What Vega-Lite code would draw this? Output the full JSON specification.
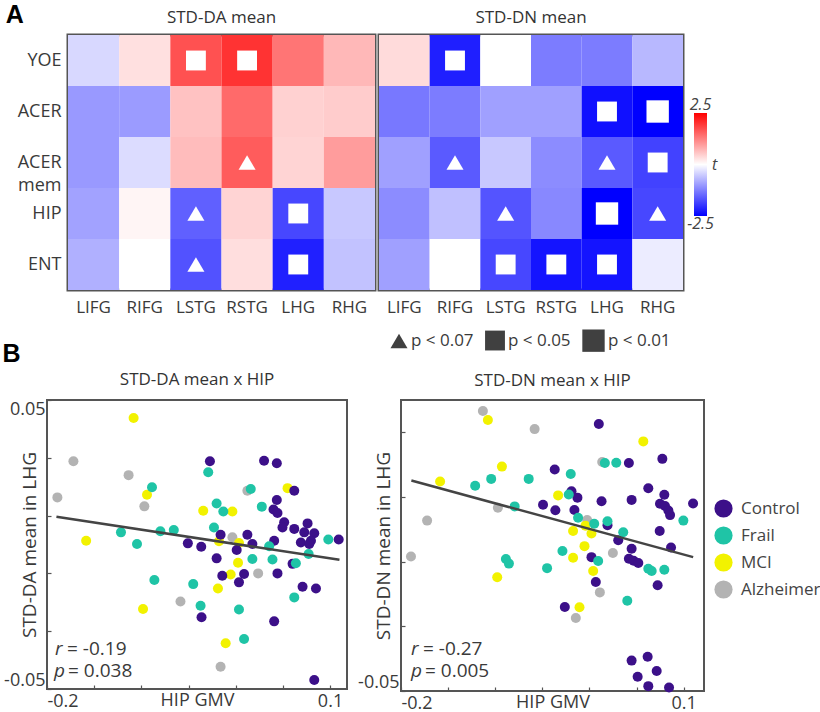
{
  "$schema": "https://vega.github.io/schema/vega-lite/v6.json",
  "padding": {"left": 2, "top": 2, "right": 0, "bottom": 0},
  "background": "white",
  "config": {
    "font": "Open Sans",
    "view": {"stroke": null},
    "axis": {"labelFont": "Open Sans", "labelColor": "#3a3a3a", "titleFont": "Open Sans", "titleColor": "#3a3a3a", "titleFontWeight": "normal", "tickColor": "#555", "tickWidth": 1.2, "domain": false, "grid": false, "zindex": 1, "labelOverlap": false, "minExtent": 0},
    "title": {"font": "Open Sans", "fontSize": 17, "fontWeight": "normal", "color": "#333"},
    "legend": {"labelFont": "Open Sans", "labelColor": "#3a3a3a"}
  },
  "datasets": {
    "heat": [
      {"panel":"DA","measure":"YOE","region":"LIFG","t":-0.38,"sig":"none"},
      {"panel":"DA","measure":"YOE","region":"RIFG","t":0.3,"sig":"none"},
      {"panel":"DA","measure":"YOE","region":"LSTG","t":1.71,"sig":"p < 0.05"},
      {"panel":"DA","measure":"YOE","region":"RSTG","t":2.0,"sig":"p < 0.05"},
      {"panel":"DA","measure":"YOE","region":"LHG","t":1.35,"sig":"none"},
      {"panel":"DA","measure":"YOE","region":"RHG","t":0.7,"sig":"none"},
      {"panel":"DA","measure":"ACER","region":"LIFG","t":-1.0,"sig":"none"},
      {"panel":"DA","measure":"ACER","region":"RIFG","t":-0.98,"sig":"none"},
      {"panel":"DA","measure":"ACER","region":"LSTG","t":0.6,"sig":"none"},
      {"panel":"DA","measure":"ACER","region":"RSTG","t":1.46,"sig":"none"},
      {"panel":"DA","measure":"ACER","region":"LHG","t":0.45,"sig":"none"},
      {"panel":"DA","measure":"ACER","region":"RHG","t":0.5,"sig":"none"},
      {"panel":"DA","measure":"ACERmem","region":"LIFG","t":-1.0,"sig":"none"},
      {"panel":"DA","measure":"ACERmem","region":"RIFG","t":-0.34,"sig":"none"},
      {"panel":"DA","measure":"ACERmem","region":"LSTG","t":0.66,"sig":"none"},
      {"panel":"DA","measure":"ACERmem","region":"RSTG","t":1.6,"sig":"p < 0.07"},
      {"panel":"DA","measure":"ACERmem","region":"LHG","t":0.42,"sig":"none"},
      {"panel":"DA","measure":"ACERmem","region":"RHG","t":0.97,"sig":"none"},
      {"panel":"DA","measure":"HIP","region":"LIFG","t":-0.91,"sig":"none"},
      {"panel":"DA","measure":"HIP","region":"RIFG","t":0.1,"sig":"none"},
      {"panel":"DA","measure":"HIP","region":"LSTG","t":-1.56,"sig":"p < 0.07"},
      {"panel":"DA","measure":"HIP","region":"RSTG","t":0.42,"sig":"none"},
      {"panel":"DA","measure":"HIP","region":"LHG","t":-1.8,"sig":"p < 0.05"},
      {"panel":"DA","measure":"HIP","region":"RHG","t":-0.54,"sig":"none"},
      {"panel":"DA","measure":"ENT","region":"LIFG","t":-0.77,"sig":"none"},
      {"panel":"DA","measure":"ENT","region":"RIFG","t":0.0,"sig":"none"},
      {"panel":"DA","measure":"ENT","region":"LSTG","t":-1.7,"sig":"p < 0.07"},
      {"panel":"DA","measure":"ENT","region":"RSTG","t":0.32,"sig":"none"},
      {"panel":"DA","measure":"ENT","region":"LHG","t":-2.19,"sig":"p < 0.05"},
      {"panel":"DA","measure":"ENT","region":"RHG","t":-0.6,"sig":"none"},
      {"panel":"DN","measure":"YOE","region":"LIFG","t":0.35,"sig":"none"},
      {"panel":"DN","measure":"YOE","region":"RIFG","t":-2.2,"sig":"p < 0.05"},
      {"panel":"DN","measure":"YOE","region":"LSTG","t":0.0,"sig":"none"},
      {"panel":"DN","measure":"YOE","region":"RSTG","t":-1.28,"sig":"none"},
      {"panel":"DN","measure":"YOE","region":"LHG","t":-1.28,"sig":"none"},
      {"panel":"DN","measure":"YOE","region":"RHG","t":-0.7,"sig":"none"},
      {"panel":"DN","measure":"ACER","region":"LIFG","t":-1.32,"sig":"none"},
      {"panel":"DN","measure":"ACER","region":"RIFG","t":-1.28,"sig":"none"},
      {"panel":"DN","measure":"ACER","region":"LSTG","t":-0.93,"sig":"none"},
      {"panel":"DN","measure":"ACER","region":"RSTG","t":-0.93,"sig":"none"},
      {"panel":"DN","measure":"ACER","region":"LHG","t":-2.34,"sig":"p < 0.05"},
      {"panel":"DN","measure":"ACER","region":"RHG","t":-2.5,"sig":"p < 0.01"},
      {"panel":"DN","measure":"ACERmem","region":"LIFG","t":-0.93,"sig":"none"},
      {"panel":"DN","measure":"ACERmem","region":"RIFG","t":-1.62,"sig":"p < 0.07"},
      {"panel":"DN","measure":"ACERmem","region":"LSTG","t":-0.54,"sig":"none"},
      {"panel":"DN","measure":"ACERmem","region":"RSTG","t":-1.13,"sig":"none"},
      {"panel":"DN","measure":"ACERmem","region":"LHG","t":-1.62,"sig":"p < 0.07"},
      {"panel":"DN","measure":"ACERmem","region":"RHG","t":-1.85,"sig":"p < 0.05"},
      {"panel":"DN","measure":"HIP","region":"LIFG","t":-1.13,"sig":"none"},
      {"panel":"DN","measure":"HIP","region":"RIFG","t":-0.62,"sig":"none"},
      {"panel":"DN","measure":"HIP","region":"LSTG","t":-1.68,"sig":"p < 0.07"},
      {"panel":"DN","measure":"HIP","region":"RSTG","t":-1.17,"sig":"none"},
      {"panel":"DN","measure":"HIP","region":"LHG","t":-2.5,"sig":"p < 0.01"},
      {"panel":"DN","measure":"HIP","region":"RHG","t":-1.8,"sig":"p < 0.07"},
      {"panel":"DN","measure":"ENT","region":"LIFG","t":-0.93,"sig":"none"},
      {"panel":"DN","measure":"ENT","region":"RIFG","t":0.0,"sig":"none"},
      {"panel":"DN","measure":"ENT","region":"LSTG","t":-1.8,"sig":"p < 0.05"},
      {"panel":"DN","measure":"ENT","region":"RSTG","t":-2.3,"sig":"p < 0.05"},
      {"panel":"DN","measure":"ENT","region":"LHG","t":-2.3,"sig":"p < 0.05"},
      {"panel":"DN","measure":"ENT","region":"RHG","t":-0.19,"sig":"none"}
    ],
    "scatDA": [
      {"group":"Alzheimer","x":-0.172,"y":0.0288},
      {"group":"Alzheimer","x":-0.1135,"y":0.024},
      {"group":"Alzheimer","x":-0.189,"y":0.0163},
      {"group":"Alzheimer","x":0.0124,"y":0.0186},
      {"group":"Alzheimer","x":-0.0968,"y":0.0132},
      {"group":"Alzheimer","x":-0.0035,"y":0.0025},
      {"group":"Alzheimer","x":0.0238,"y":-0.01},
      {"group":"Alzheimer","x":-0.0585,"y":-0.0197},
      {"group":"Alzheimer","x":-0.016,"y":-0.0423},
      {"group":"MCI","x":-0.1082,"y":0.0438},
      {"group":"MCI","x":-0.094,"y":0.0172},
      {"group":"MCI","x":0.055,"y":0.0195},
      {"group":"MCI","x":-0.0344,"y":0.0117},
      {"group":"MCI","x":-0.0035,"y":0.0114},
      {"group":"MCI","x":-0.1585,"y":0.0013},
      {"group":"MCI","x":-0.0177,"y":0.0011},
      {"group":"MCI","x":0.0035,"y":0.0005},
      {"group":"MCI","x":0.0025,"y":-0.0063},
      {"group":"MCI","x":-0.0053,"y":-0.0104},
      {"group":"MCI","x":-0.0188,"y":-0.0152},
      {"group":"MCI","x":-0.0982,"y":-0.0223},
      {"group":"MCI","x":-0.0106,"y":-0.0342},
      {"group":"Control","x":-0.0273,"y":0.0288},
      {"group":"Control","x":0.0301,"y":0.029},
      {"group":"Control","x":0.0436,"y":0.0281},
      {"group":"Control","x":0.0621,"y":0.0186},
      {"group":"Control","x":0.0436,"y":0.0154},
      {"group":"Control","x":0.0401,"y":0.0121},
      {"group":"Control","x":0.0443,"y":0.0109},
      {"group":"Control","x":0.0514,"y":0.0077},
      {"group":"Control","x":0.0496,"y":0.0059},
      {"group":"Control","x":0.0621,"y":0.0054},
      {"group":"Control","x":0.0762,"y":0.0073},
      {"group":"Control","x":0.0727,"y":0.0042},
      {"group":"Control","x":0.0833,"y":0.0039},
      {"group":"Control","x":0.0798,"y":0.0013},
      {"group":"Control","x":0.0691,"y":0.0007},
      {"group":"Control","x":0.078,"y":0.0002},
      {"group":"Control","x":-0.016,"y":0.0034},
      {"group":"Control","x":0.0124,"y":0.0034},
      {"group":"Control","x":-0.0507,"y":0.0004},
      {"group":"Control","x":-0.0365,"y":-0.0008},
      {"group":"Control","x":0.0177,"y":0.0002},
      {"group":"Control","x":0.0011,"y":-0.0019},
      {"group":"Control","x":0.0408,"y":0.0013},
      {"group":"Control","x":0.1092,"y":0.0017},
      {"group":"Control","x":-0.0202,"y":-0.0048},
      {"group":"Control","x":0.0603,"y":-0.0067},
      {"group":"Control","x":0.0443,"y":-0.01},
      {"group":"Control","x":-0.0142,"y":-0.0108},
      {"group":"Control","x":0.0089,"y":-0.0102},
      {"group":"Control","x":0.0035,"y":-0.0131},
      {"group":"Control","x":0.0709,"y":-0.0146},
      {"group":"Control","x":0.0851,"y":-0.0152},
      {"group":"Control","x":-0.0362,"y":-0.0252},
      {"group":"Control","x":0.0408,"y":-0.0266},
      {"group":"Control","x":0.0833,"y":-0.0469},
      {"group":"Frail","x":-0.0291,"y":0.025},
      {"group":"Frail","x":0.016,"y":0.0192},
      {"group":"Frail","x":-0.0887,"y":0.0198},
      {"group":"Frail","x":-0.0202,"y":0.0142},
      {"group":"Frail","x":-0.0131,"y":0.0114},
      {"group":"Frail","x":0.0277,"y":0.0131},
      {"group":"Frail","x":-0.023,"y":0.0059},
      {"group":"Frail","x":-0.1216,"y":0.0042},
      {"group":"Frail","x":-0.0798,"y":0.0046},
      {"group":"Frail","x":-0.0656,"y":0.005},
      {"group":"Frail","x":-0.1046,"y":0.0002},
      {"group":"Frail","x":0.0355,"y":-0.0006},
      {"group":"Frail","x":0.0982,"y":0.0017},
      {"group":"Frail","x":0.0773,"y":-0.0033},
      {"group":"Frail","x":0.0177,"y":-0.005},
      {"group":"Frail","x":0.039,"y":-0.0052},
      {"group":"Frail","x":0.0638,"y":-0.0065},
      {"group":"Frail","x":-0.0862,"y":-0.0123},
      {"group":"Frail","x":-0.045,"y":-0.0137},
      {"group":"Frail","x":0.0621,"y":-0.0183},
      {"group":"Frail","x":-0.0372,"y":-0.0212},
      {"group":"Frail","x":0.0035,"y":-0.0225},
      {"group":"Frail","x":0.0089,"y":-0.0327}
    ],
    "scatDN": [
      {"group":"Alzheimer","x":-0.1131,"y":0.0366},
      {"group":"Alzheimer","x":-0.0582,"y":0.031},
      {"group":"Alzheimer","x":0.0135,"y":0.0208},
      {"group":"Alzheimer","x":-0.0972,"y":0.0067},
      {"group":"Alzheimer","x":-0.0025,"y":0.0029},
      {"group":"Alzheimer","x":-0.1723,"y":0.0027},
      {"group":"Alzheimer","x":0.0248,"y":-0.0073},
      {"group":"Alzheimer","x":-0.1894,"y":-0.0084},
      {"group":"Alzheimer","x":0.011,"y":-0.0195},
      {"group":"Alzheimer","x":-0.0145,"y":-0.0274},
      {"group":"MCI","x":-0.1078,"y":0.0338},
      {"group":"MCI","x":0.0571,"y":0.0272},
      {"group":"MCI","x":-0.0929,"y":0.0194},
      {"group":"MCI","x":-0.1585,"y":0.0148},
      {"group":"MCI","x":-0.0333,"y":0.0105},
      {"group":"MCI","x":-0.0174,"y":-0.0005},
      {"group":"MCI","x":-0.0043,"y":0.0011},
      {"group":"MCI","x":0.0021,"y":-0.0013},
      {"group":"MCI","x":-0.0053,"y":-0.0052},
      {"group":"MCI","x":-0.0174,"y":-0.0088},
      {"group":"MCI","x":0.0039,"y":-0.0129},
      {"group":"MCI","x":-0.0979,"y":-0.0148},
      {"group":"MCI","x":-0.0106,"y":-0.0241},
      {"group":"Control","x":0.0099,"y":0.0326},
      {"group":"Control","x":0.0418,"y":0.0205},
      {"group":"Control","x":0.0773,"y":0.0218},
      {"group":"Control","x":-0.0369,"y":0.0185},
      {"group":"Control","x":0.0624,"y":0.0127},
      {"group":"Control","x":-0.0191,"y":0.0118},
      {"group":"Control","x":-0.0128,"y":0.0098},
      {"group":"Control","x":0.0128,"y":0.0087},
      {"group":"Control","x":0.0447,"y":0.0091},
      {"group":"Control","x":0.0794,"y":0.0107},
      {"group":"Control","x":0.0748,"y":0.0079},
      {"group":"Control","x":0.0801,"y":0.0072},
      {"group":"Control","x":0.0837,"y":0.0058},
      {"group":"Control","x":0.0855,"y":0.0044},
      {"group":"Control","x":0.1099,"y":0.008},
      {"group":"Control","x":-0.0493,"y":0.0076},
      {"group":"Control","x":-0.0362,"y":0.0059},
      {"group":"Control","x":-0.016,"y":0.006},
      {"group":"Control","x":0.0191,"y":0.0013},
      {"group":"Control","x":0.0305,"y":-0.0034},
      {"group":"Control","x":0.0745,"y":-0.0005},
      {"group":"Control","x":0.0447,"y":-0.006},
      {"group":"Control","x":0.0865,"y":-0.0056},
      {"group":"Control","x":0.0021,"y":-0.0086},
      {"group":"Control","x":0.0418,"y":-0.0091},
      {"group":"Control","x":0.0468,"y":-0.0097},
      {"group":"Control","x":0.0518,"y":-0.0104},
      {"group":"Control","x":0.0067,"y":-0.0163},
      {"group":"Control","x":0.0723,"y":-0.0173},
      {"group":"Control","x":-0.0262,"y":-0.024},
      {"group":"Control","x":0.0447,"y":-0.0406},
      {"group":"Control","x":0.0617,"y":-0.0394},
      {"group":"Control","x":0.0511,"y":-0.0456},
      {"group":"Control","x":0.0713,"y":-0.0438},
      {"group":"Control","x":0.0624,"y":-0.0485},
      {"group":"Control","x":0.0844,"y":-0.0489},
      {"group":"Frail","x":0.0163,"y":0.0205},
      {"group":"Frail","x":0.0284,"y":0.0206},
      {"group":"Frail","x":-0.0199,"y":0.0171},
      {"group":"Frail","x":-0.0645,"y":0.0156},
      {"group":"Frail","x":-0.1043,"y":0.0156},
      {"group":"Frail","x":-0.1213,"y":0.0135},
      {"group":"Frail","x":-0.022,"y":0.0108},
      {"group":"Frail","x":-0.0794,"y":0.0071},
      {"group":"Frail","x":-0.0121,"y":0.0036},
      {"group":"Frail","x":0.005,"y":0.0017},
      {"group":"Frail","x":0.0191,"y":0.0025},
      {"group":"Frail","x":0.0996,"y":0.0027},
      {"group":"Frail","x":0.0358,"y":-0.0009},
      {"group":"Frail","x":-0.0287,"y":-0.0067},
      {"group":"Frail","x":0.0092,"y":-0.0098},
      {"group":"Frail","x":-0.0887,"y":-0.0092},
      {"group":"Frail","x":-0.0855,"y":-0.0106},
      {"group":"Frail","x":-0.045,"y":-0.012},
      {"group":"Frail","x":0.0624,"y":-0.0122},
      {"group":"Frail","x":0.066,"y":-0.0129},
      {"group":"Frail","x":0.0794,"y":-0.0125},
      {"group":"Frail","x":0.0401,"y":-0.0221}
    ],
    "fitDA": [{"x":-0.19,"y":0.0096},{"x":0.11,"y":-0.0053}],
    "fitDN": [{"x":-0.189,"y":0.0151},{"x":0.11,"y":-0.0086}],
    "stats": [
      {"panel":"DA","sym":"r","val":"= -0.19"},
      {"panel":"DA","sym":"p","val":"= 0.038"},
      {"panel":"DN","sym":"r","val":"= -0.27"},
      {"panel":"DN","sym":"p","val":"= 0.005"}
    ]
  },
  "columns": 1,
  "align": "none",
  "spacing": -12,
  "concat": [
    {
      "spacing": -46,
      "hconcat": [
        {"width": 1, "height": 1, "data": {"values": [{"k": 0}]}, "mark": {"type": "point", "opacity": 0}, "encoding": {}, "view": {"stroke": null}},
        {
          "title": {"text": "A", "anchor": "start", "font": "Liberation Sans", "fontWeight": "bold", "fontSize": 25, "color": "#000", "offset": -20, "dx": -10},
          "spacing": 0,
          "resolve": {"scale": {"color": "independent", "shape": "independent", "size": "independent"}, "legend": {"color": "independent", "shape": "independent", "size": "independent"}},
          "hconcat": [
            {
              "width": 307, "height": 255,
              "title": {"text": "STD-DA mean", "offset": 7},
              "view": {"stroke": "#555", "strokeWidth": 3},
              "data": {"name": "heat"},
              "transform": [{"filter": "datum.panel == 'DA'"}],
              "resolve": {"axis": {"x": "independent"}},
              "layer": [
                {
                  "mark": {"type": "rect"},
                  "encoding": {
                    "x": {"field": "region", "type": "nominal", "sort": ["LIFG","RIFG","LSTG","RSTG","LHG","RHG"], "scale": {"paddingInner": 0, "paddingOuter": 0},
                          "axis": {"orient": "bottom", "title": null, "labelAngle": 0, "labelFontSize": 17, "tickSize": -5, "labelPadding": 14, "labelBaseline": "top"}},
                    "y": {"field": "measure", "type": "nominal", "sort": ["YOE","ACER","ACERmem","HIP","ENT"], "scale": {"paddingInner": 0, "paddingOuter": 0},
                          "axis": {"orient": "left", "title": null, "labelFontSize": 18, "tickSize": -5, "labelPadding": 12, "labelLineHeight": 23,
                                   "labelExpr": "datum.value == 'ACERmem' ? ['ACER', 'mem'] : datum.value"}},
                    "color": {"field": "t", "type": "quantitative", "scale": {"domain": [-2.5, 0, 2.5], "range": ["#0000ff", "#ffffff", "#ff0000"], "interpolate": "rgb", "zero": false, "nice": false}, "legend": null}
                  }
                },
                {
                  "transform": [{"filter": "datum.sig != 'none'"}],
                  "mark": {"type": "point", "filled": true, "color": "white", "opacity": 1, "strokeWidth": 0},
                  "encoding": {
                    "x": {"field": "region", "type": "nominal", "sort": ["LIFG","RIFG","LSTG","RSTG","LHG","RHG"], "axis": {"orient": "top", "title": null, "labels": false, "tickSize": -5}},
                    "y": {"field": "measure", "type": "nominal", "sort": ["YOE","ACER","ACERmem","HIP","ENT"]},
                    "shape": {"field": "sig", "type": "ordinal", "scale": {"domain": ["p < 0.07","p < 0.05","p < 0.01"], "range": ["triangle-up","square","square"]}, "legend": null},
                    "size": {"field": "sig", "type": "ordinal", "scale": {"domain": ["p < 0.07","p < 0.05","p < 0.01"], "range": [290, 500, 1330]}, "legend": null}
                  }
                }
              ]
            },
            {
              "width": 304, "height": 255,
              "title": {"text": "STD-DN mean", "offset": 7},
              "view": {"stroke": "#555", "strokeWidth": 3},
              "data": {"name": "heat"},
              "transform": [{"filter": "datum.panel == 'DN'"}],
              "resolve": {"axis": {"x": "independent"}},
              "layer": [
                {
                  "transform": [{"filter": "datum.sig != 'none'"}],
                  "mark": {"type": "point", "filled": true, "color": "#404040", "opacity": 1, "strokeWidth": 0},
                  "encoding": {
                    "x": {"field": "region", "type": "nominal", "sort": ["LIFG","RIFG","LSTG","RSTG","LHG","RHG"], "axis": null},
                    "y": {"field": "measure", "type": "nominal", "sort": ["YOE","ACER","ACERmem","HIP","ENT"], "axis": null},
                    "shape": {"field": "sig", "type": "ordinal", "scale": {"domain": ["p < 0.07","p < 0.05","p < 0.01"], "range": ["triangle-up","square","square"]},
                              "legend": {"orient": "none", "legendX": 11, "legendY": 294, "direction": "horizontal", "title": null, "labelFontSize": 17, "labelOffset": 3, "columnPadding": 11, "symbolOpacity": 1, "symbolFillColor": "#404040", "symbolStrokeWidth": 0}},
                    "size": {"field": "sig", "type": "ordinal", "scale": {"domain": ["p < 0.07","p < 0.05","p < 0.01"], "range": [290, 500, 1330]},
                              "legend": {"orient": "none", "legendX": 11, "legendY": 294, "direction": "horizontal", "title": null, "labelFontSize": 17, "labelOffset": 3, "columnPadding": 11, "symbolOpacity": 1, "symbolFillColor": "#404040", "symbolStrokeWidth": 0}}
                  }
                },
                {
                  "mark": {"type": "rect"},
                  "encoding": {
                    "x": {"field": "region", "type": "nominal", "sort": ["LIFG","RIFG","LSTG","RSTG","LHG","RHG"], "scale": {"paddingInner": 0, "paddingOuter": 0},
                          "axis": {"orient": "bottom", "title": null, "labelAngle": 0, "labelFontSize": 17, "tickSize": -5, "labelPadding": 14, "labelBaseline": "top"}},
                    "y": {"field": "measure", "type": "nominal", "sort": ["YOE","ACER","ACERmem","HIP","ENT"], "scale": {"paddingInner": 0, "paddingOuter": 0},
                          "axis": {"orient": "right", "title": null, "labels": false, "tickSize": -5}},
                    "color": {"field": "t", "type": "quantitative", "scale": {"domain": [-2.5, 0, 2.5], "range": ["#0000ff", "#ffffff", "#ff0000"], "interpolate": "rgb", "zero": false, "nice": false},
                              "legend": {"orient": "none", "legendX": 315, "legendY": 78, "direction": "vertical", "gradientLength": 103, "gradientThickness": 13, "gradientStrokeWidth": 0,
                                         "values": [-2.5, 0, 2.5], "labelExpr": "datum.value > 0 ? '2.5' : datum.value < 0 ? '-2.5' : 't'", "title": null,
                                         "labelFontSize": 16, "labelFontStyle": "italic", "labelColor": "#444", "labelOverlap": false,
                                         "encode": {"labels": {"update": {"x": {"signal": "datum.value == 0 ? 18 : 6.5"}, "align": {"signal": "datum.value == 0 ? 'left' : 'center'"}, "baseline": {"signal": "datum.value > 0 ? 'bottom' : datum.value < 0 ? 'top' : 'middle'"}}}}}}
                  }
                },
                {
                  "transform": [{"filter": "datum.sig != 'none'"}],
                  "mark": {"type": "point", "filled": true, "color": "white", "opacity": 1, "strokeWidth": 0},
                  "encoding": {
                    "x": {"field": "region", "type": "nominal", "sort": ["LIFG","RIFG","LSTG","RSTG","LHG","RHG"], "axis": {"orient": "top", "title": null, "labels": false, "tickSize": -5}},
                    "y": {"field": "measure", "type": "nominal", "sort": ["YOE","ACER","ACERmem","HIP","ENT"]},
                    "shape": {"field": "sig", "type": "ordinal", "scale": {"domain": ["p < 0.07","p < 0.05","p < 0.01"], "range": ["triangle-up","square","square"]}, "legend": null},
                    "size": {"field": "sig", "type": "ordinal", "scale": {"domain": ["p < 0.07","p < 0.05","p < 0.01"], "range": [290, 500, 1330]}, "legend": null}
                  }
                }
              ]
            }
          ]
        }
      ]
    },
    {
      "title": {"text": "B", "anchor": "start", "font": "Liberation Sans", "fontWeight": "bold", "fontSize": 25, "color": "#000", "offset": 3, "dx": 0},
      "spacing": 8,
      "resolve": {"scale": {"color": "independent"}, "legend": {"color": "independent"}},
      "hconcat": [
        {
          "width": 300, "height": 289,
          "title": {"text": "STD-DA mean x HIP", "offset": 10},
          "view": {"stroke": "#555", "strokeWidth": 2},
          "layer": [
            {
              "data": {"name": "scatDA"},
              "mark": {"type": "point", "filled": true, "opacity": 1, "size": 100, "shape": "circle"},
              "encoding": {
                "x": {"field": "x", "type": "quantitative", "scale": {"domain": [-0.2, 0.118], "nice": false, "zero": false},
                      "axis": {"values": [-0.2,-0.15,-0.1,-0.05,0,0.05,0.1], "labelExpr": "datum.value == -0.2 ? '-0.2' : datum.value == 0.1 ? '0.1' : ''", "labelFlush": true, "tickSize": -4, "labelPadding": 7, "labelFontSize": 18, "labelBaseline": "top",
                               "title": "HIP GMV", "titleFontSize": 18, "titlePadding": -19}},
                "y": {"field": "y", "type": "quantitative", "scale": {"domain": [-0.05, 0.05], "nice": false, "zero": false},
                      "axis": {"values": [-0.05,-0.04,-0.03,-0.02,-0.01,0,0.01,0.02,0.03,0.04,0.05], "labelExpr": "datum.value == 0.05 ? '0.05' : datum.value == -0.05 ? '-0.05' : ''", "labelFlush": true, "tickSize": -4, "labelPadding": 6, "labelFontSize": 18,
                               "title": "STD-DA mean in LHG", "titleFontSize": 19, "titlePadding": -36}},
                "color": {"field": "group", "type": "nominal", "scale": {"domain": ["Control","Frail","MCI","Alzheimer"], "range": ["#3c1089","#1fc4a6","#f2f200","#b3b3b3"]}, "legend": null}
              }
            },
            {
              "data": {"name": "fitDA"},
              "mark": {"type": "line", "color": "#444", "strokeWidth": 2.5},
              "encoding": {"x": {"field": "x", "type": "quantitative"}, "y": {"field": "y", "type": "quantitative"}}
            },
            {
              "data": {"name": "stats"},
              "transform": [{"filter": "datum.panel == 'DA' && datum.sym == 'r'"}],
              "mark": {"type": "text", "align": "left", "baseline": "alphabetic", "fontSize": 19, "fontStyle": "italic", "color": "#3a3a3a"},
              "encoding": {"x": {"datum": -0.1915}, "y": {"datum": -0.0382}, "text": {"field": "sym"}}
            },
            {
              "data": {"name": "stats"},
              "transform": [{"filter": "datum.panel == 'DA' && datum.sym == 'r'"}],
              "mark": {"type": "text", "align": "left", "baseline": "alphabetic", "fontSize": 19, "dx": 12, "color": "#3a3a3a"},
              "encoding": {"x": {"datum": -0.1915}, "y": {"datum": -0.0382}, "text": {"field": "val"}}
            },
            {
              "data": {"name": "stats"},
              "transform": [{"filter": "datum.panel == 'DA' && datum.sym == 'p'"}],
              "mark": {"type": "text", "align": "left", "baseline": "alphabetic", "fontSize": 19, "fontStyle": "italic", "color": "#3a3a3a"},
              "encoding": {"x": {"datum": -0.1925}, "y": {"datum": -0.0458}, "text": {"field": "sym"}}
            },
            {
              "data": {"name": "stats"},
              "transform": [{"filter": "datum.panel == 'DA' && datum.sym == 'p'"}],
              "mark": {"type": "text", "align": "left", "baseline": "alphabetic", "fontSize": 19, "dx": 14, "color": "#3a3a3a"},
              "encoding": {"x": {"datum": -0.1925}, "y": {"datum": -0.0458}, "text": {"field": "val"}}
            }
          ]
        },
        {
          "width": 303, "height": 291,
          "title": {"text": "STD-DN mean x HIP", "offset": 10},
          "view": {"stroke": "#555", "strokeWidth": 2},
          "layer": [
            {
              "data": {"name": "scatDN"},
              "mark": {"type": "point", "filled": true, "opacity": 1, "size": 100, "shape": "circle"},
              "encoding": {
                "x": {"field": "x", "type": "quantitative", "scale": {"domain": [-0.2, 0.1215], "nice": false, "zero": false},
                      "axis": {"values": [-0.2,-0.15,-0.1,-0.05,0,0.05,0.1], "labelExpr": "datum.value == -0.2 ? '-0.2' : datum.value == 0.1 ? '0.1' : ''", "labelFlush": true, "tickSize": -4, "labelPadding": 7, "labelFontSize": 18, "labelBaseline": "top",
                               "title": "HIP GMV", "titleFontSize": 18, "titlePadding": -19}},
                "y": {"field": "y", "type": "quantitative", "scale": {"domain": [-0.05, 0.04], "nice": false, "zero": false},
                      "axis": {"values": [-0.05,-0.04,-0.03,-0.02,-0.01,0,0.01,0.02,0.03,0.04], "labelExpr": "datum.value == 0.04 ? '0.04' : datum.value == -0.05 ? '-0.05' : ''", "labelFlush": true, "tickSize": -4, "labelPadding": 6, "labelFontSize": 18,
                               "title": "STD-DN mean in LHG", "titleFontSize": 19, "titlePadding": -36}},
                "color": {"field": "group", "type": "nominal", "scale": {"domain": ["Control","Frail","MCI","Alzheimer"], "range": ["#3c1089","#1fc4a6","#f2f200","#b3b3b3"]},
                          "legend": {"orient": "none", "legendX": 313, "legendY": 99, "title": null, "symbolType": "circle", "symbolSize": 330, "symbolStrokeWidth": 0, "symbolOpacity": 1, "labelFontSize": 17, "labelOffset": 8, "rowPadding": 8, "labelColor": "#444", "labelLimit": 200}}
              }
            },
            {
              "data": {"name": "fitDN"},
              "mark": {"type": "line", "color": "#444", "strokeWidth": 2.5},
              "encoding": {"x": {"field": "x", "type": "quantitative"}, "y": {"field": "y", "type": "quantitative"}}
            },
            {
              "data": {"name": "stats"},
              "transform": [{"filter": "datum.panel == 'DN' && datum.sym == 'r'"}],
              "mark": {"type": "text", "align": "left", "baseline": "alphabetic", "fontSize": 19, "fontStyle": "italic", "color": "#3a3a3a"},
              "encoding": {"x": {"datum": -0.1894}, "y": {"datum": -0.039}, "text": {"field": "sym"}}
            },
            {
              "data": {"name": "stats"},
              "transform": [{"filter": "datum.panel == 'DN' && datum.sym == 'r'"}],
              "mark": {"type": "text", "align": "left", "baseline": "alphabetic", "fontSize": 19, "dx": 12, "color": "#3a3a3a"},
              "encoding": {"x": {"datum": -0.1894}, "y": {"datum": -0.039}, "text": {"field": "val"}}
            },
            {
              "data": {"name": "stats"},
              "transform": [{"filter": "datum.panel == 'DN' && datum.sym == 'p'"}],
              "mark": {"type": "text", "align": "left", "baseline": "alphabetic", "fontSize": 19, "fontStyle": "italic", "color": "#3a3a3a"},
              "encoding": {"x": {"datum": -0.1894}, "y": {"datum": -0.0458}, "text": {"field": "sym"}}
            },
            {
              "data": {"name": "stats"},
              "transform": [{"filter": "datum.panel == 'DN' && datum.sym == 'p'"}],
              "mark": {"type": "text", "align": "left", "baseline": "alphabetic", "fontSize": 19, "dx": 14, "color": "#3a3a3a"},
              "encoding": {"x": {"datum": -0.1894}, "y": {"datum": -0.0458}, "text": {"field": "val"}}
            }
          ]
        }
      ]
    }
  ]
}
